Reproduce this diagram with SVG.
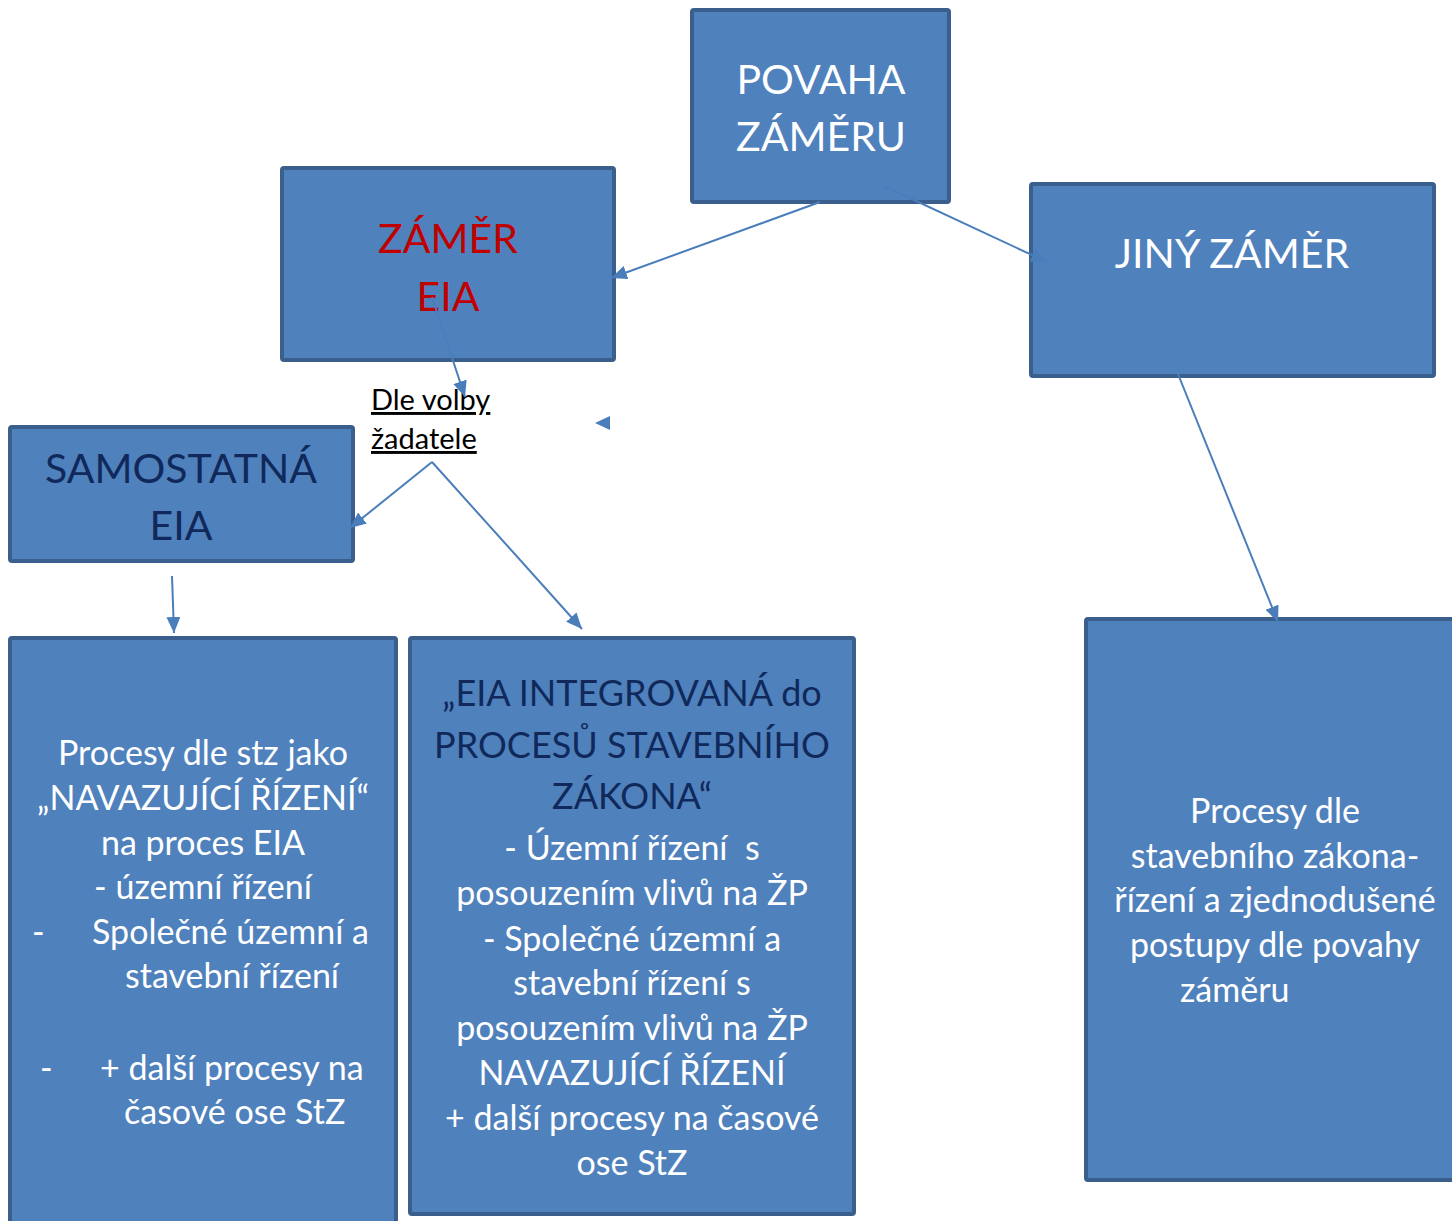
<svg xmlns="http://www.w3.org/2000/svg" width="1452" height="1221" viewBox="0 0 1452 1221">
<style>
.box{fill:#4F81BD;stroke:#3A5F8C;stroke-width:4}
.t{font-family:Lato,"Open Sans",sans-serif}
.w{fill:#FFFFFF}
.nv{fill:#10295A}
.rd{fill:#C00000}
.c{text-anchor:middle}
.big{font-size:41px}
.body{font-size:34px}
.hdr{font-size:36px}
.conn line{stroke:#4A7EBB;stroke-width:2;fill:none}
</style>
<defs>
<marker id="ah" markerUnits="userSpaceOnUse" markerWidth="18" markerHeight="14" refX="16" refY="7" orient="auto">
<path d="M0,0 L16,7 L0,14 z" fill="#4A7EBB"/>
</marker>
</defs>
<rect width="1452" height="1221" fill="#FFFFFF"/>

<g id="povaha">
<rect class="box" x="692" y="10" width="257" height="192" rx="2"/>
<text class="t w c big" x="821" y="94">POVAHA</text>
<text class="t w c big" x="821" y="151">ZÁMĚRU</text>
</g>

<g id="zamer-eia">
<rect class="box" x="282" y="168" width="332" height="192" rx="2"/>
<text class="t rd c big" x="448" y="253">ZÁMĚR</text>
<text class="t rd c big" x="448" y="311">EIA</text>
</g>

<g id="jiny-zamer">
<rect class="box" x="1031" y="184" width="403" height="192" rx="2"/>
<text class="t w c big" x="1232" y="268">JINÝ ZÁMĚR</text>
</g>

<g id="dle-volby">
<text class="t" x="371" y="410" font-size="29" fill="#000000" text-decoration="underline">Dle volby</text>
<text class="t" x="371" y="449" font-size="29" fill="#000000" text-decoration="underline">žadatele</text>
</g>

<g id="samostatna-eia">
<rect class="box" x="10" y="427" width="343" height="134" rx="2"/>
<text class="t nv c big" x="181" y="483">SAMOSTATNÁ</text>
<text class="t nv c big" x="181" y="540">EIA</text>
</g>

<g id="navazujici">
<rect class="box" x="10" y="638" width="386" height="600" rx="2"/>
<text class="t w c body" x="203" y="765">Procesy dle stz jako</text>
<text class="t w c body" x="203" y="810">„NAVAZUJÍCÍ ŘÍZENÍ“</text>
<text class="t w c body" x="203" y="855">na proces EIA</text>
<text class="t w c body" x="203" y="899">- územní řízení</text>
<text class="t w body" x="32" y="944">-</text>
<text class="t w body" x="92" y="944">Společné územní a</text>
<text class="t w body" x="125" y="988">stavební řízení</text>
<text class="t w body" x="40" y="1080">-</text>
<text class="t w body" x="100" y="1080">+ další procesy na</text>
<text class="t w body" x="124" y="1124">časové ose StZ</text>
</g>

<g id="integrovana">
<rect class="box" x="410" y="638" width="444" height="576" rx="2"/>
<text class="t nv c hdr" x="632" y="706">„EIA INTEGROVANÁ do</text>
<text class="t nv c hdr" x="632" y="758">PROCESŮ STAVEBNÍHO</text>
<text class="t nv c hdr" x="632" y="809">ZÁKONA“</text>
<text class="t w c body" x="632" y="860" style="white-space:pre">- Územní řízení  s</text>
<text class="t w c body" x="632" y="905">posouzením vlivů na ŽP</text>
<text class="t w c body" x="632" y="951">- Společné územní a</text>
<text class="t w c body" x="632" y="995">stavební řízení s</text>
<text class="t w c body" x="632" y="1040">posouzením vlivů na ŽP</text>
<text class="t w c body" x="632" y="1085">NAVAZUJÍCÍ ŘÍZENÍ</text>
<text class="t w c body" x="632" y="1130">+ další procesy na časové</text>
<text class="t w c body" x="632" y="1175">ose StZ</text>
</g>

<g id="procesy-stz">
<rect class="box" x="1086" y="619" width="380" height="561" rx="2"/>
<text class="t w c body" x="1275" y="823">Procesy dle</text>
<text class="t w c body" x="1275" y="868">stavebního zákona-</text>
<text class="t w c body" x="1275" y="912">řízení a zjednodušené</text>
<text class="t w c body" x="1275" y="957">postupy dle povahy</text>
<text class="t w body" x="1180" y="1002">záměru</text>
</g>

<g id="connectors" class="conn">
<line x1="820" y1="202" x2="611" y2="278" marker-end="url(#ah)"/>
<line x1="884" y1="186" x2="1047" y2="262" marker-end="url(#ah)"/>
<line x1="432" y1="297" x2="465" y2="397" marker-end="url(#ah)"/>
<line x1="432" y1="462" x2="350" y2="528" marker-end="url(#ah)"/>
<line x1="432" y1="462" x2="582" y2="629" marker-end="url(#ah)"/>
<line x1="172" y1="576" x2="174" y2="633" marker-end="url(#ah)"/>
<line x1="1178" y1="374" x2="1278" y2="622" marker-end="url(#ah)"/>
<path d="M595,423 L610,416 L610,430 z" fill="#4A7EBB"/>
</g>
</svg>
